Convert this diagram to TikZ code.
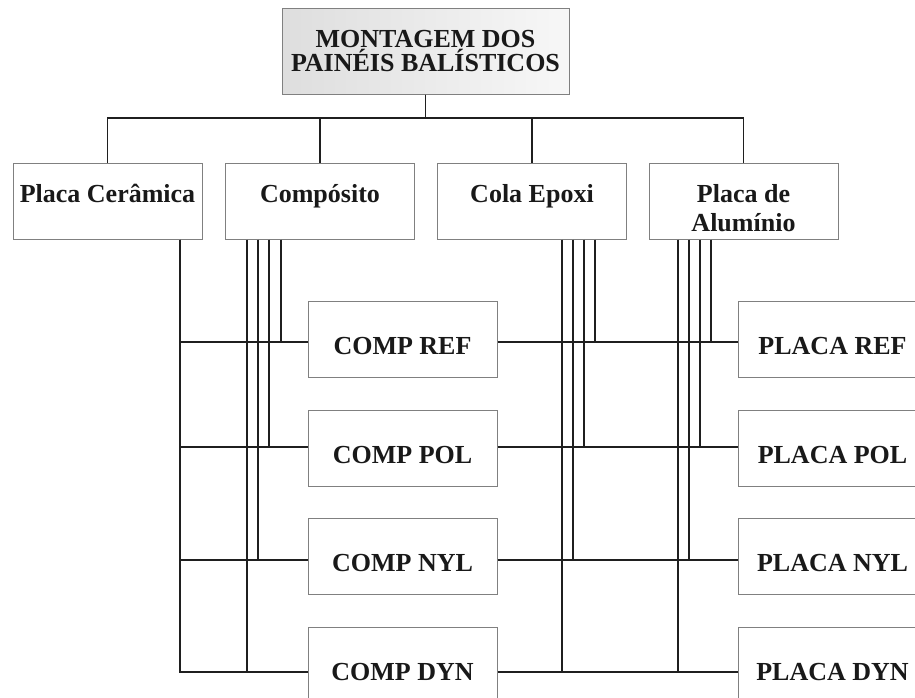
\documentclass[tikz,border=0pt]{standalone}
\usepackage{fontspec}
\setmainfont{Liberation Serif}
\begin{document}
\begin{tikzpicture}[x=1pt,y=-1pt,
  txt/.style={font=\fontsize{26}{29}\selectfont\bfseries, text=black!90},
  basebox/.style={txt, draw=black!50, line width=1pt, fill=white, inner sep=0pt,
    minimum width=189pt, minimum height=76pt, align=center},
  headbox/.style={basebox, minimum width=287pt, minimum height=86pt,
    left color=black!13, right color=black!3, font=\fontsize{26}{24}\selectfont\bfseries},
  catbox/.style={basebox, text height=39pt, text depth=37pt},
  catboxtwo/.style={basebox, text height=68pt, text depth=8pt},
  leafbox/.style={basebox, text height=53pt, text depth=23pt},
  conn/.style={draw=black!88, line width=1.5pt}]
\useasboundingbox (0,0) rectangle (915,697);
\fill[white] (0,0) rectangle (915,697);
\clip (0,0) rectangle (915,697);

% nodes
\node[headbox] (head) at (425.5,51) {MONTAGEM DOS\\PAINÉIS BALÍSTICOS};
\node[catbox] (cer)  at (107.5,201) {Placa Cerâmica};
\node[catbox] (comp) at (320,201)   {Compósito};
\node[catbox] (cola) at (532,201)   {Cola Epoxi};
\node[catboxtwo] (alu)  at (743.5,201) {Placa de\\Alumínio};

\node[leafbox] (cref) at (402.5,339) {COMP REF};
\node[leafbox] (cpol) at (402.5,448) {COMP POL};
\node[leafbox] (cnyl) at (402.5,556) {COMP NYL};
\node[leafbox] (cdyn) at (402.5,665) {COMP DYN};

\node[leafbox] (pref) at (832.5,339) {PLACA REF};
\node[leafbox] (ppol) at (832.5,448) {PLACA POL};
\node[leafbox] (pnyl) at (832.5,556) {PLACA NYL};
\node[leafbox] (pdyn) at (832.5,665) {PLACA DYN};

% helper coordinates
\coordinate (bus) at (0,118);
\coordinate (r1) at (0,342);
\coordinate (r2) at (0,447);
\coordinate (r3) at (0,560);
\coordinate (r4) at (0,672);

% tree from header
\foreach \c in {cer,comp,cola,alu}
  \draw[conn] (head.south) -- (head.south |- bus) -| (\c.north);

% Placa Ceramica -> COMP boxes
\coordinate (xc) at (180,0);
\foreach \n/\r in {cref/r1,cpol/r2,cnyl/r3,cdyn/r4}
  \draw[conn] (xc |- cer.south) |- (\n.west |- \r);

% Composito -> COMP boxes
\foreach \x/\n/\r in {281/cref/r1,269/cpol/r2,258/cnyl/r3,247/cdyn/r4}{
  \coordinate (t) at (\x,0);
  \draw[conn] (t |- comp.south) |- (\n.west |- \r);
}

% COMP -> PLACA
\foreach \a/\b/\r in {cref/pref/r1,cpol/ppol/r2,cnyl/pnyl/r3,cdyn/pdyn/r4}
  \draw[conn] (\a.east |- \r) -- (\b.west |- \r);

% Cola Epoxi -> PLACA boxes
\foreach \x/\n/\r in {595/pref/r1,584/ppol/r2,573/pnyl/r3,562/pdyn/r4}{
  \coordinate (t) at (\x,0);
  \draw[conn] (t |- cola.south) |- (\n.west |- \r);
}

% Placa de Aluminio -> PLACA boxes
\foreach \x/\n/\r in {711/pref/r1,700/ppol/r2,689/pnyl/r3,678/pdyn/r4}{
  \coordinate (t) at (\x,0);
  \draw[conn] (t |- alu.south) |- (\n.west |- \r);
}
\end{tikzpicture}
\end{document}
